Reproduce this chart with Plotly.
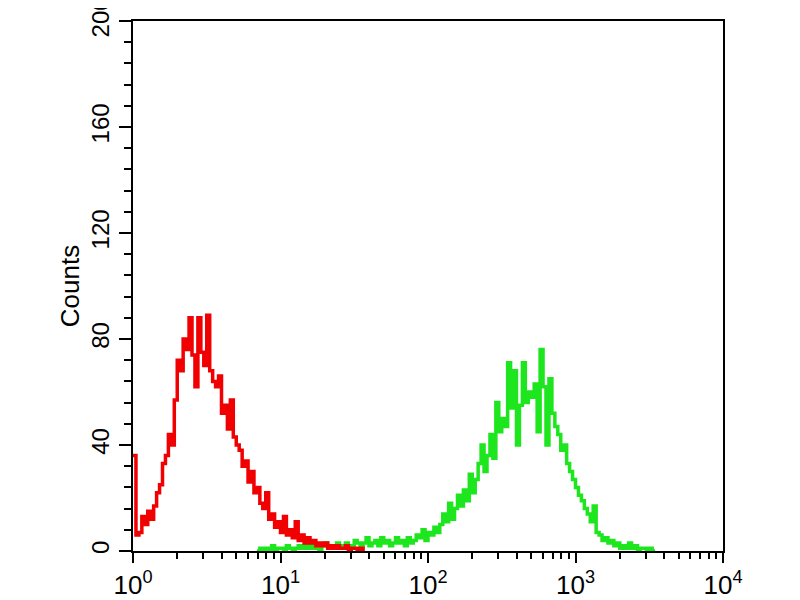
import plotly.graph_objects as go

# Channel grid (log10 units) and counts
red_log_start = 0.0
green_log_start = 0.84
log_step = 0.02

red_counts = [36, 6, 7, 13, 10, 15, 12, 17, 22, 25, 33, 36, 44, 40, 57, 72, 68, 80, 76, 88,
              74, 62, 88, 75, 70, 89, 68, 64, 62, 66, 52, 55, 46, 57, 43, 40, 38, 32, 34, 26,
              30, 22, 24, 18, 16, 22, 12, 14, 9, 11, 7, 13, 6, 8, 5, 11, 4, 6, 3, 5,
              3, 4, 2, 3, 2, 3, 1, 2, 1, 2, 1, 1, 2, 0, 1, 1, 0, 1, 0]

green_counts = [0, 1, 0, 1, 0, 2, 0, 1, 1, 0, 2, 1, 0, 1, 2,
                1, 2, 1, 3, 1, 2, 0, 2, 3, 1, 2, 1, 3, 2, 1, 3, 2,
                2, 4, 3, 2, 3, 5, 2, 3, 4, 2, 5, 3, 4, 2, 3, 5,
                3, 4, 2, 5, 3, 4, 6,
                5, 8, 4, 7, 6, 9, 7,
                10, 14, 11, 18, 12,
                16, 21, 17, 23, 19,
                29, 22, 27,
                33, 40, 30, 36,
                44, 35, 56,
                45, 50, 47, 71, 54, 68, 40, 55, 71, 56, 60, 58, 63, 45, 76, 62, 40, 65,
                52, 47, 44, 38, 40, 33, 30, 27, 24, 21, 19, 16, 14, 11, 17, 7, 6, 4, 5, 3, 4, 2,
                3, 1, 2, 1, 3, 1, 2, 0, 1, 1, 0, 1, 0, 0]

x_tickvals = [1, 10, 100, 1000, 10000]
x_ticktext = ["10<sup>0</sup>", "10<sup>1</sup>", "10<sup>2</sup>", "10<sup>3</sup>", "10<sup>4</sup>"]
y_tickvals = [0, 40, 80, 120, 160, 200]
y_title = "Counts"

red_x = [10 ** (red_log_start + i * log_step) for i in range(len(red_counts))]
green_x = [10 ** (green_log_start + i * log_step) for i in range(len(green_counts))]

minor_x = [m * 10 ** d for d in range(4) for m in range(2, 10)]

fig = go.Figure()
fig.add_trace(go.Scatter(x=green_x, y=green_counts, mode="lines", line_shape="hv",
                         line=dict(color="#1ee61e", width=3.5), showlegend=False))
fig.add_trace(go.Scatter(x=red_x, y=red_counts, mode="lines", line_shape="hv",
                         line=dict(color="#f00000", width=3.5), showlegend=False))

family = "Liberation Sans, Arial, sans-serif"
font = dict(family=family, size=24, color="black")

fig.update_layout(
    width=800, height=600,
    margin=dict(l=125, r=85, t=13, b=57, autoexpand=False),
    paper_bgcolor="white", plot_bgcolor="white",
    font=font,
    xaxis=dict(type="log", range=[0, 4], tickvals=x_tickvals, ticktext=x_ticktext,
               automargin=False, ticklabeloverflow="allow",
               showgrid=False, zeroline=False, showline=True, linecolor="black", linewidth=2,
               mirror=True, ticks="outside", ticklen=10, tickwidth=2, tickcolor="black",
               tickfont=dict(family=family, size=26, color="black"),
               minor=dict(tickvals=minor_x, ticks="outside", ticklen=6, tickwidth=2,
                          tickcolor="black", showgrid=False)),
    yaxis=dict(range=[0, 200], tickvals=y_tickvals, tickangle=-90, automargin=False,
               ticklabeloverflow="allow",
               showgrid=False, zeroline=False, showline=True, linecolor="black", linewidth=2,
               mirror=True, ticks="outside", ticklen=12, tickwidth=2, tickcolor="black",
               tickfont=font,
               title=dict(text=y_title, font=dict(family=family, size=26, color="black"),
                          standoff=0),
               minor=dict(dtick=8, ticks="outside", ticklen=7, tickwidth=2,
                          tickcolor="black", showgrid=False)),
)

fig.write_html("out.html")
